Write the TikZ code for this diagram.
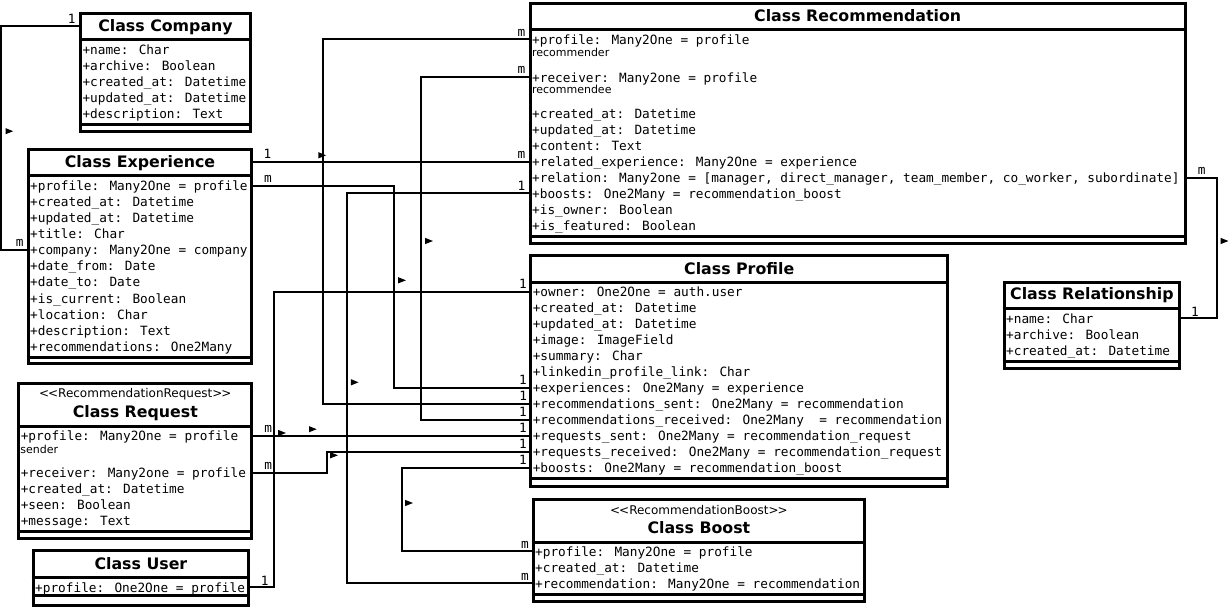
\documentclass[tikz,border=0pt]{standalone}
\usepackage{fontspec}
\newfontfamily\umlmono{DejaVu Sans Mono}
\newfontfamily\umlsans{DejaVu Sans}
\newcommand\umlclass[7]{% name, x1, y1, x2, y2, divider1, divider2
  \node[classbox, minimum width={#4-#2-3}, minimum height={#5-#3-3}] (#1) at ({(#2+#4)/2},{(#3+#5)/2}) {};
  \draw[divider] (#1.west |- 0,#6) -- (#1.east |- 0,#6);
  \draw[divider] (#1.west |- 0,#7) -- (#1.east |- 0,#7);
}
\begin{document}
\begin{tikzpicture}[x=1pt,y=-1pt,
  classbox/.style={draw, line width=3pt, fill=white, inner sep=0pt, rectangle},
  divider/.style={line width=3pt},
  conn/.style={line width=2pt},
  attr/.style={font=\umlmono\fontsize{12.75}{15}\selectfont, anchor=base west, inner sep=0pt, outer sep=0pt},
  note/.style={font=\umlsans\fontsize{11}{13}\selectfont, anchor=base west, inner sep=0pt, outer sep=0pt},
  ctitle/.style={font=\umlsans\bfseries\fontsize{15.8}{18}\selectfont, anchor=base, inner sep=0pt, outer sep=0pt},
  stereo/.style={font=\umlsans\fontsize{12}{14}\selectfont, anchor=base, inner sep=0pt, outer sep=0pt},
  mult/.style={font=\umlmono\fontsize{12.75}{15}\selectfont, anchor=base, inner sep=0pt, outer sep=0pt},
  navarrow/.pic={\fill (-3.8,-3.1) -- (3.9,0) -- (-3.8,3.1) -- cycle;}
]
\useasboundingbox (0,0) rectangle (1230,609);
\fill[white] (0,0) rectangle (1230,609);

% ---------- class boxes ----------
\umlclass{comp}{79}{12}{252}{133}{39.5}{124.7}
\umlclass{exp}{26.7}{147.7}{253.3}{365}{176}{357}
\umlclass{req}{17.3}{381.7}{253.3}{540}{426.3}{531.2}
\umlclass{usr}{31.7}{549.3}{250}{607}{577.7}{595.5}
\umlclass{rec}{528.7}{1.7}{1186.7}{245}{29.5}{236.5}
\umlclass{prof}{529.3}{254}{949}{487.7}{282.7}{478.7}
\umlclass{rel}{1002.7}{280.7}{1181}{370}{308}{361.2}
\umlclass{bst}{531.7}{498.3}{866}{603.3}{542.3}{594}

% ---------- Company ----------
\node[ctitle] (compT) at (165.5,31.5) {Class Company};
\node[attr] (comp1) at (82.5,54.3) {+name: Char};
\node[attr] (comp2) at (82.5,70.3) {+archive: Boolean};
\node[attr] (comp3) at (82.5,86.3) {+created\_at: Datetime};
\node[attr] (comp4) at (82.5,102.3) {+updated\_at: Datetime};
\node[attr] (comp5) at (82.5,118.3) {+description: Text};

% ---------- Experience ----------
\node[ctitle] (expT) at (140,167.5) {Class Experience};
\node[attr] (exp1) at (30.2,191) {+profile: Many2One = profile};
\node[attr] (exp2) at (30.2,207) {+created\_at: Datetime};
\node[attr] (exp3) at (30.2,223) {+updated\_at: Datetime};
\node[attr] (exp4) at (30.2,239) {+title: Char};
\node[attr] (exp5) at (30.2,255) {+company: Many2One = company};
\node[attr] (exp6) at (30.2,271) {+date\_from: Date};
\node[attr] (exp7) at (30.2,287) {+date\_to: Date};
\node[attr] (exp8) at (30.2,303) {+is\_current: Boolean};
\node[attr] (exp9) at (30.2,319) {+location: Char};
\node[attr] (exp10) at (30.2,335) {+description: Text};
\node[attr] (exp11) at (30.2,351) {+recommendations: One2Many};

% ---------- Request ----------
\node[stereo] (reqS) at (135.3,397.5) {<\kern-1pt<RecommendationRequest>\kern-1pt>};
\node[ctitle] (reqT) at (135.3,417.3) {Class Request};
\node[attr] (req1) at (20.8,440.3) {+profile: Many2One = profile};
\node[note] (req1n) at (20.3,453.3) {sender};
\node[attr] (req2) at (20.8,477.3) {+receiver: Many2one = profile};
\node[attr] (req3) at (20.8,493.3) {+created\_at: Datetime};
\node[attr] (req4) at (20.8,509.3) {+seen: Boolean};
\node[attr] (req5) at (20.8,525.3) {+message: Text};

% ---------- User ----------
\node[ctitle] (usrT) at (140.9,569.3) {Class User};
\node[attr] (usr1) at (35.2,592.3) {+profile: One2One = profile};

% ---------- Recommendation ----------
\node[ctitle] (recT) at (857.7,21.3) {Class Recommendation};
\node[attr] (rec1) at (532.2,45) {+profile: Many2One = profile};
\node[note] (rec1n) at (532,56.5) {recommender};
\node[attr] (rec2) at (532.2,82.3) {+receiver: Many2one = profile};
\node[note] (rec2n) at (532,94) {recommendee};
\node[attr] (rec3) at (532.2,118.3) {+created\_at: Datetime};
\node[attr] (rec4) at (532.2,134.3) {+updated\_at: Datetime};
\node[attr] (rec5) at (532.2,150.3) {+content: Text};
\node[attr] (rec6) at (532.2,166.3) {+related\_experience: Many2One = experience};
\node[attr] (rec7) at (532.2,182.3) {+relation: Many2one = [manager, direct\_manager, team\_member, co\_worker, subordinate]};
\node[attr] (rec8) at (532.2,198.3) {+boosts: One2Many = recommendation\_boost};
\node[attr] (rec9) at (532.2,214.3) {+is\_owner: Boolean};
\node[attr] (rec10) at (532.2,230.3) {+is\_featured: Boolean};

% ---------- Profile ----------
\node[ctitle] (profT) at (739.2,274.2) {Class Profile};
\node[attr] (prof1) at (532.8,296.7) {+owner: One2One = auth.user};
\node[attr] (prof2) at (532.8,312.7) {+created\_at: Datetime};
\node[attr] (prof3) at (532.8,328.7) {+updated\_at: Datetime};
\node[attr] (prof4) at (532.8,344.7) {+image: ImageField};
\node[attr] (prof5) at (532.8,360.7) {+summary: Char};
\node[attr] (prof6) at (532.8,376.7) {+linkedin\_profile\_link: Char};
\node[attr] (prof7) at (532.8,392.7) {+experiences: One2Many = experience};
\node[attr] (prof8) at (532.8,408.7) {+recommendations\_sent: One2Many = recommendation};
\node[attr] (prof9) at (532.8,424.7) {+recommendations\_received: One2Many\ \ = recommendation};
\node[attr] (prof10) at (532.8,440.7) {+requests\_sent: One2Many = recommendation\_request};
\node[attr] (prof11) at (532.8,456.7) {+requests\_received: One2Many = recommendation\_request};
\node[attr] (prof12) at (532.8,472.7) {+boosts: One2Many = recommendation\_boost};

% ---------- Relationship ----------
\node[ctitle] (relT) at (1091.9,300) {Class Relationship};
\node[attr] (rel1) at (1006.2,323.5) {+name: Char};
\node[attr] (rel2) at (1006.2,339.5) {+archive: Boolean};
\node[attr] (rel3) at (1006.2,355.5) {+created\_at: Datetime};

% ---------- Boost ----------
\node[stereo] (bstS) at (698.9,514) {<\kern-1pt<RecommendationBoost>\kern-1pt>};
\node[ctitle] (bstT) at (698.9,533.3) {Class Boost};
\node[attr] (bst1) at (535.2,556.7) {+profile: Many2One = profile};
\node[attr] (bst2) at (535.2,572.7) {+created\_at: Datetime};
\node[attr] (bst3) at (535.2,588.7) {+recommendation: Many2One = recommendation};

% ---------- connectors ----------
% Company - Experience
\draw[conn] (comp.west |- 0,26) -| (1,250) -- (exp.west |- 0,250);
\node[mult] (mA1) at (71.7,23.3) {1};
\node[mult] (mA2) at (19.7,246.5) {m};
% Recommendation.profile - Profile.recommendations_sent
\draw[conn] (rec.west |- 0,39) -| (322.7,404) -- (prof.west |- 0,404);
\node[mult] (mB1) at (521.5,36.8) {m};
\node[mult] (mB2) at (523.3,400.6) {1};
% Recommendation.receiver - Profile.recommendations_received
\draw[conn] (rec.west |- 0,76.7) -| (421,420) -- (prof.west |- 0,420);
\node[mult] (mC1) at (521.5,73.5) {m};
\node[mult] (mC2) at (523,416.6) {1};
% Experience - Recommendation.related_experience
\draw[conn] (exp.east |- 0,161.7) -- (rec.west |- 0,161.7);
\node[mult] (mD1) at (267.5,158.6) {1};
\node[mult] (mD2) at (521.5,158.5) {m};
% Experience.profile - Profile.experiences
\draw[conn] (exp.east |- 0,185.7) -| (394,387.7) -- (prof.west |- 0,387.7);
\node[mult] (mE1) at (268,182.5) {m};
\node[mult] (mE2) at (523,384.6) {1};
% Recommendation.boosts - Boost.recommendation
\draw[conn] (rec.west |- 0,193.3) -| (347,583.3) -- (bst.west |- 0,583.3);
\node[mult] (mF1) at (521.5,190.6) {1};
\node[mult] (mF2) at (525,580.5) {m};
% Profile.owner - User.profile
\draw[conn] (prof.west |- 0,291.7) -| (274,587.3) -- (usr.east |- 0,587.3);
\node[mult] (mG1) at (523,288.6) {1};
\node[mult] (mG2) at (264.7,585.1) {1};
% Request.profile - Profile.requests_sent
\draw[conn] (req.east |- 0,435.7) -- (prof.west |- 0,435.7);
\node[mult] (mH1) at (268.3,432.2) {m};
\node[mult] (mH2) at (523,432.6) {1};
% Request.receiver - Profile.requests_received
\draw[conn] (req.east |- 0,472.7) -| (326.7,452) -- (prof.west |- 0,452);
\node[mult] (mI1) at (268.3,469.5) {m};
\node[mult] (mI2) at (523,448.6) {1};
% Profile.boosts - Boost.profile
\draw[conn] (prof.west |- 0,468.3) -| (401.5,551) -- (bst.west |- 0,551);
\node[mult] (mJ1) at (523,464.6) {1};
\node[mult] (mJ2) at (525,548.5) {m};
% Recommendation.relation - Relationship
\draw[conn] (rec.east |- 0,178.3) -| (1216.7,318.3) -- (rel.east |- 0,318.3);
\node[mult] (mK1) at (1201.7,174.5) {m};
\node[mult] (mK2) at (1195,316.3) {1};

% ---------- direction markers ----------
\pic at (9.3,131.2) {navarrow};
\pic at (322.2,155.3) {navarrow};
\pic at (429,241) {navarrow};
\pic at (402,280.3) {navarrow};
\pic at (354.7,382.3) {navarrow};
\pic at (282,433) {navarrow};
\pic at (312.8,429.2) {navarrow};
\pic at (334,455.3) {navarrow};
\pic at (409,503) {navarrow};
\pic at (1224.5,241) {navarrow};
\end{tikzpicture}
\end{document}
